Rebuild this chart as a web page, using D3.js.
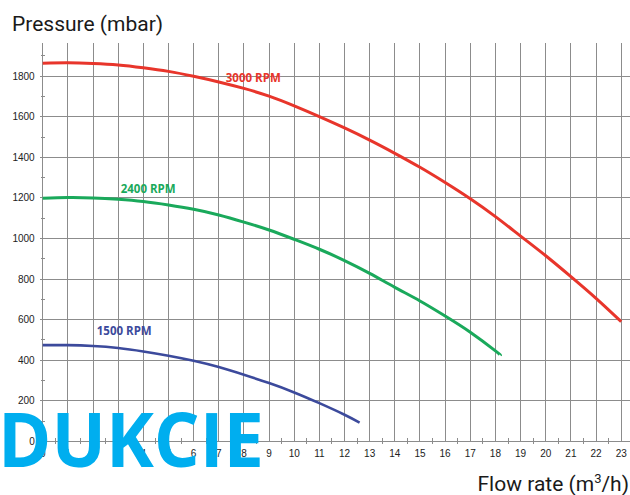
<!DOCTYPE html>
<html>
<head>
<meta charset="utf-8">
<script src="https://cdn.jsdelivr.net/npm/d3@7"></script>
<style>
  body { margin: 0; background: #fff; }
  svg { display: block; }
  .grid line { stroke: #8c8c8c; stroke-width: 1; shape-rendering: crispEdges; }
  .tick-label { font-family: "Liberation Sans", Arial, sans-serif; font-size: 10px; fill: #222; }
  .axis-title { font-family: Roboto, sans-serif; font-size: 21px; fill: #1a1a1a; }
  .rpm-label { font-family: "Open Sans", sans-serif; font-weight: bold; font-size: 11.5px; }
</style>
</head>
<body>
<div id="chart"></div>
<script>
// flow rate (m3/h) and pressure (mbar)
const flow3000 = [0, 1, 2, 3, 4, 5, 6, 7, 8, 9, 10, 11, 12, 13, 14, 15, 16, 17, 18, 19, 20, 21, 22, 23];
const pres3000 = [1864, 1866, 1863, 1856, 1842, 1824, 1800, 1772, 1740, 1702, 1654, 1601, 1545, 1485, 1420, 1351, 1276, 1196, 1108, 1012, 915, 812, 705, 590];

const flow2400 = [0, 1, 2, 3, 4, 5, 6, 7, 8, 9, 10, 11, 12, 13, 14, 15, 16, 17, 18, 18.2];
const pres2400 = [1198, 1202, 1200, 1193, 1182, 1165, 1144, 1116, 1081, 1042, 996, 947, 891, 828, 759, 692, 618, 538, 446, 424];

const flow1500 = [0, 1, 2, 3, 4, 5, 6, 7, 8, 9, 10, 11, 12, 12.6];
const pres1500 = [474, 474, 470, 460, 443, 422, 397, 366, 328, 287, 241, 188, 131, 92];

const seriesNames = ["3000 RPM", "2400 RPM", "1500 RPM"];
const seriesColors = ["#e8352b", "#1aa95b", "#3c4a9c"];
const labelFlow = [7.28, 3.1, 2.15];
const labelPres = [1772, 1223, 523];

const xTicks = d3.range(0, 24);
const yTicks = d3.range(0, 1801, 200);

const width = 630, height = 495;
const margin = { top: 43, right: 0, bottom: 54, left: 42.7 };

const svg = d3.select("#chart").append("svg")
  .attr("width", width)
  .attr("height", height);

const x = d3.scaleLinear().domain([0, 23.35]).range([margin.left, width - margin.right]);
const y = d3.scaleLinear().domain([0, 1964]).range([height - margin.bottom + 0.3, margin.top]);

// grid
const grid = svg.append("g").attr("class", "grid");
grid.selectAll(".vline").data(xTicks).enter().append("line")
  .attr("class", "vline")
  .attr("x1", d => x(d)).attr("x2", d => x(d))
  .attr("y1", y.range()[1]).attr("y2", y(0) + 1);
grid.selectAll(".hline").data(yTicks).enter().append("line")
  .attr("class", "hline")
  .attr("x1", margin.left - 3).attr("x2", width)
  .attr("y1", d => y(d)).attr("y2", d => y(d));

// minor ticks
grid.selectAll(".ymin").data(d3.range(100, 2000, 200)).enter().append("line")
  .attr("x1", margin.left - 2).attr("x2", margin.left + 2)
  .attr("y1", d => y(d)).attr("y2", d => y(d));
grid.selectAll(".xmin").data(d3.range(0.5, 23.5, 1)).enter().append("line")
  .attr("x1", d => x(d)).attr("x2", d => x(d))
  .attr("y1", y(0) - 3).attr("y2", y(0) + 3);

// tick labels
svg.selectAll(".ylab").data(yTicks).enter().append("text")
  .attr("class", "tick-label")
  .attr("x", margin.left - 8)
  .attr("y", d => y(d) + 3.5)
  .attr("text-anchor", "end")
  .text(d => d);
svg.selectAll(".xlab").data(xTicks).enter().append("text")
  .attr("class", "tick-label")
  .attr("x", d => x(d))
  .attr("y", y(0) + 16)
  .attr("text-anchor", "middle")
  .text(d => d);

// curves
const line = d3.line()
  .x(d => x(d[0]))
  .y(d => y(d[1]))
  .curve(d3.curveNatural);

const curves = [
  d3.zip(flow3000, pres3000),
  d3.zip(flow2400, pres2400),
  d3.zip(flow1500, pres1500)
];

svg.selectAll(".curve").data(curves).enter().append("path")
  .attr("class", "curve")
  .attr("fill", "none")
  .attr("stroke", (d, i) => seriesColors[i])
  .attr("stroke-width", (d, i) => i == 2 ? 2.6 : 3)
  .attr("d", line);

svg.selectAll(".rpm-label").data(seriesNames).enter().append("text")
  .attr("class", "rpm-label")
  .attr("x", (d, i) => x(labelFlow[i]))
  .attr("y", (d, i) => y(labelPres[i]))
  .attr("fill", (d, i) => seriesColors[i])
  .text(d => d);

// axis titles
svg.append("text")
  .attr("class", "axis-title")
  .attr("x", 12)
  .attr("y", 31)
  .text("Pressure (mbar)");

const xt = svg.append("text")
  .attr("class", "axis-title")
  .attr("x", 629)
  .attr("y", 491)
  .attr("text-anchor", "end");
xt.append("tspan").text("Flow rate (m");
xt.append("tspan").attr("font-size", "13px").attr("dy", -8).text("3");
xt.append("tspan").attr("dy", 8).text("/h)");

// watermark
svg.append("text")
  .attr("x", -2)
  .attr("y", 467)
  .attr("font-family", "'Open Sans', sans-serif")
  .attr("font-weight", "bold")
  .attr("font-size", 76)
  .attr("fill", "#00aeef")
  .attr("textLength", 266)
  .attr("lengthAdjust", "spacingAndGlyphs")
  .text("DUKCIE");
</script>
</body>
</html>
